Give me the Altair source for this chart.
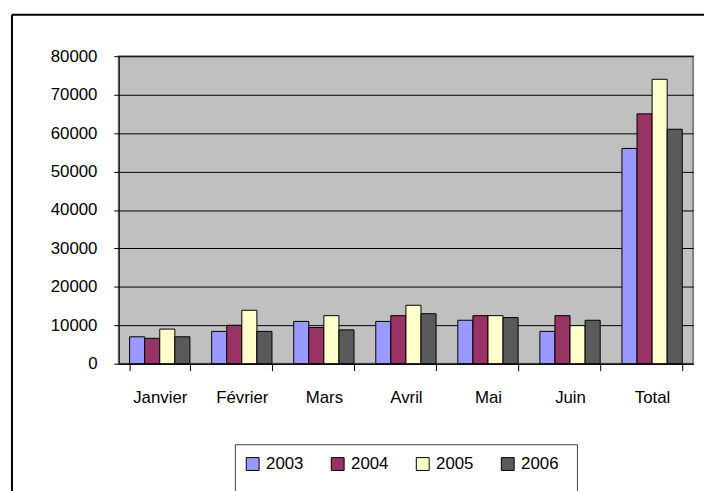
import altair as alt
import pandas as pd

months = ["Janvier", "Février", "Mars", "Avril", "Mai", "Juin", "Total"]
years = ["2003", "2004", "2005", "2006"]
v2003 = [7000, 8400, 11000, 11000, 11300, 8400, 56000]
v2004 = [6600, 10000, 9400, 12500, 12500, 12500, 65000]
v2005 = [9000, 13900, 12500, 15200, 12500, 9900, 74000]
v2006 = [7000, 8400, 8800, 13000, 12000, 11300, 61000]
colors = ["#9999FF", "#993366", "#FFFFCC", "#5A5A5A"]
y_ticks = [0, 10000, 20000, 30000, 40000, 50000, 60000, 70000, 80000]

series = {"2003": v2003, "2004": v2004, "2005": v2005, "2006": v2006}
rows = []
for yr in years:
    for m, v in zip(months, series[yr]):
        rows.append({"mois": m, "annee": yr, "valeur": v})
df = pd.DataFrame(rows)

FONT = "Liberation Sans"
FS = 17

bars = alt.Chart(df).mark_bar(stroke="black", strokeWidth=1).encode(
    x=alt.X(
        "mois:N",
        sort=months,
        scale=alt.Scale(paddingInner=0.265, paddingOuter=0.1325),
        axis=alt.Axis(
            title=None, labelAngle=0, tickBand="extent", tickSize=7,
            labelPadding=19, labelFontSize=FS, labelFont=FONT,
            labelColor="black", domainColor="black", tickColor="black",
            grid=False,
        ),
    ),
    xOffset=alt.XOffset("annee:N", sort=years,
                        scale=alt.Scale(paddingInner=0, paddingOuter=0)),
    y=alt.Y(
        "valeur:Q",
        scale=alt.Scale(domain=[0, 80000], nice=False),
        axis=alt.Axis(
            title=None, values=y_ticks, format="d", tickSize=5,
            labelPadding=17, labelFontSize=FS, labelFont=FONT,
            labelColor="black", domainColor="black", tickColor="black",
            grid=True, gridColor="black", gridWidth=1,
        ),
    ),
    fill=alt.Fill(
        "annee:N",
        scale=alt.Scale(domain=years, range=colors),
        legend=alt.Legend(
            title=None, orient="none", legendX=127, legendY=404,
            direction="horizontal", symbolType="square", symbolSize=169,
            symbolStrokeColor="black", symbolStrokeWidth=1,
            labelFontSize=FS, labelFont=FONT, labelColor="black",
            labelOffset=5, columnPadding=26, padding=0,
        ),
    ),
)

one = pd.DataFrame({"k": [0]})
frame_top = alt.Chart(one).mark_rule(color="black", strokeWidth=2).encode(
    x=alt.value(-108), x2=alt.value(640), y=alt.value(-42))
frame_left = alt.Chart(one).mark_rule(color="black", strokeWidth=2).encode(
    x=alt.value(-108), y=alt.value(-42), y2=alt.value(460))
leg_top = alt.Chart(one).mark_rule(color="#404040", strokeWidth=1).encode(
    x=alt.value(118), x2=alt.value(464), y=alt.value(393))
leg_left = alt.Chart(one).mark_rule(color="#404040", strokeWidth=1).encode(
    x=alt.value(118), y=alt.value(393), y2=alt.value(460))
leg_right = alt.Chart(one).mark_rule(color="#404040", strokeWidth=1).encode(
    x=alt.value(464), y=alt.value(393), y2=alt.value(460))

chart = alt.layer(bars, frame_top, frame_left, leg_top, leg_left, leg_right).properties(
    width=581,
    height=311,
    padding={"left": 112, "top": 46, "right": 11, "bottom": 126},
    autosize=alt.AutoSizeParams(type="none"),
    background="white",
).configure_view(
    fill="#C0C0C0", stroke="#808080", strokeWidth=2
)

chart.save("out.html", embed_options={"renderer": "svg", "actions": False})
